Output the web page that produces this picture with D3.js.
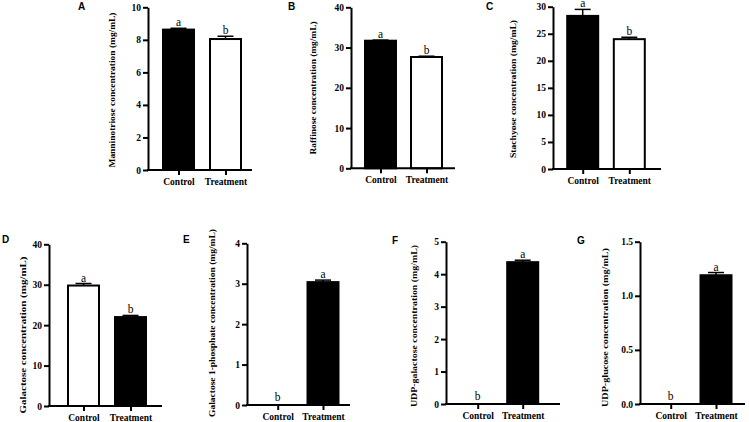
<!DOCTYPE html>
<html>
<head>
<meta charset="utf-8">
<script src="https://cdn.jsdelivr.net/npm/d3@7"></script>
<style>
  body { margin: 0; background: #fff; }
  svg { display: block; }
</style>
</head>
<body>
<div id="chart"></div>
<script>
// canvas size
const width = 749;
const height = 422;

// data
const categories = ["Control", "Treatment"];
const panelIds = ["A", "B", "C", "D", "E", "F", "G"];
const yTitles = [
  "Manninotriose concentration (mg/mL)",
  "Raffinose concentration (mg/mL)",
  "Stachyose concentration (mg/mL)",
  "Galactose concentration (mg/mL)",
  "Galactose 1-phosphate concentration (mg/mL)",
  "UDP-galactose concentration (mg/mL)",
  "UDP-glucose concentration (mg/mL)"
];
const controlMeans = [8.63, 31.7, 28.3, 29.8, 0, 0, 0];
const controlErrors = [0.08, 0.15, 1.2, 0.5, 0, 0, 0];
const treatmentMeans = [8.05, 27.65, 24.0, 22.0, 3.04, 4.37, 1.19];
const treatmentErrors = [0.17, 0.2, 0.35, 0.4, 0.05, 0.06, 0.025];
const controlLetters = ["a", "a", "a", "a", "b", "b", "b"];
const treatmentLetters = ["b", "b", "b", "b", "a", "a", "a"];
const yMax = [10, 40, 30, 40, 4, 5, 1.5];
const yTicks = [
  [0, 2, 4, 6, 8, 10],
  [0, 10, 20, 30, 40],
  [0, 5, 10, 15, 20, 25, 30],
  [0, 10, 20, 30, 40],
  [0, 1, 2, 3, 4],
  [0, 1, 2, 3, 4, 5],
  [0, 0.5, 1.0, 1.5]
];
const tickFormats = ["d", "d", "d", "d", "d", "d", ".1f"];
// which bar is filled black: Control / Treatment
const controlFill = ["#000", "#000", "#000", "#fff", "#fff", "#fff", "#fff"];
const treatmentFill = ["#fff", "#fff", "#fff", "#000", "#000", "#000", "#000"];

// panel layout (pixels)
const layout = [
  {x0: 148, x1: 252, yTop: 7.3, y0: 170, c0: 178.5, c1: 225.5, tx: 112, ty: 90, tl: 155, lx: 78, ly: 10},
  {x0: 351, x1: 455, yTop: 7.3, y0: 168.3, c0: 380.5, c1: 426.5, tx: 313, ty: 88, tl: 133, lx: 288, ly: 10},
  {x0: 553, x1: 661, yTop: 6.7, y0: 169, c0: 582.7, c1: 629.3, tx: 513, ty: 89, tl: 138, lx: 486, ly: 10},
  {x0: 49, x1: 162, yTop: 244.3, y0: 406, c0: 83.5, c1: 130.5, tx: 23, ty: 335, tl: 157, lx: 2, ly: 243},
  {x0: 247, x1: 350, yTop: 243.3, y0: 405, c0: 277.7, c1: 323, tx: 212, ty: 323, tl: 188, lx: 183, ly: 243},
  {x0: 446, x1: 560, yTop: 241.7, y0: 404, c0: 477.7, c1: 522.7, tx: 414, ty: 326, tl: 162, lx: 392, ly: 244},
  {x0: 640, x1: 745, yTop: 241.7, y0: 404, c0: 670.7, c1: 716, tx: 605, ty: 327.5, tl: 159, lx: 577, ly: 244}
];
const barWidth = 31;
const capWidth = 16;
const serif = "'Liberation Serif', 'Times New Roman', serif";
const sans = "'Liberation Sans', Arial, sans-serif";

const svg = d3.select("#chart")
  .append("svg")
  .attr("width", width)
  .attr("height", height)
  .attr("viewBox", [0, 0, width, height]);

panelIds.forEach((id, p) => {
  const L = layout[p];
  const g = svg.append("g");

  // scales
  const yScale = d3.scaleLinear()
    .domain([0, yMax[p]])
    .range([L.y0, L.yTop]);

  const xScale = d3.scalePoint()
    .domain(categories)
    .range([L.c0, L.c1]);

  const bars = categories.map((c, i) => ({
    cat: c,
    mean: i === 0 ? controlMeans[p] : treatmentMeans[p],
    err: i === 0 ? controlErrors[p] : treatmentErrors[p],
    letter: i === 0 ? controlLetters[p] : treatmentLetters[p],
    fill: i === 0 ? controlFill[p] : treatmentFill[p]
  }));

  // bars
  g.selectAll(".bar")
    .data(bars.filter(d => d.mean > 0))
    .enter()
    .append("rect")
      .attr("class", "bar")
      .attr("x", d => xScale(d.cat) - barWidth / 2)
      .attr("y", d => yScale(d.mean))
      .attr("width", barWidth)
      .attr("height", d => yScale(0) - yScale(d.mean))
      .attr("fill", d => d.fill)
      .attr("stroke", "#000")
      .attr("stroke-width", 2);

  // error bars (upper whisker + cap)
  const eb = g.selectAll(".err")
    .data(bars.filter(d => d.mean > 0))
    .enter()
    .append("g")
      .attr("class", "err");
  eb.append("line")
    .attr("x1", d => xScale(d.cat))
    .attr("x2", d => xScale(d.cat))
    .attr("y1", d => yScale(d.mean))
    .attr("y2", d => yScale(d.mean + d.err))
    .attr("stroke", "#000")
    .attr("stroke-width", 1.5);
  eb.append("line")
    .attr("x1", d => xScale(d.cat) - capWidth / 2)
    .attr("x2", d => xScale(d.cat) + capWidth / 2)
    .attr("y1", d => yScale(d.mean + d.err))
    .attr("y2", d => yScale(d.mean + d.err))
    .attr("stroke", "#000")
    .attr("stroke-width", 1.5);

  // significance letters
  g.selectAll(".sig")
    .data(bars)
    .enter()
    .append("text")
      .attr("class", "sig")
      .attr("x", d => xScale(d.cat))
      .attr("y", d => yScale(d.mean + d.err) - (d.mean > 0 ? 2 : 4.5))
      .attr("text-anchor", "middle")
      .style("font-family", serif)
      .style("font-size", "11.5px")
      .text(d => d.letter);

  // y axis
  const yAxis = g.append("g")
    .attr("transform", `translate(${L.x0},0)`)
    .call(d3.axisLeft(yScale)
      .tickValues(yTicks[p])
      .tickFormat(d3.format(tickFormats[p]))
      .tickSize(5)
      .tickSizeOuter(0)
      .tickPadding(2));
  yAxis.select(".domain").attr("stroke-width", 2);
  yAxis.selectAll(".tick line").attr("stroke-width", 2);
  yAxis.selectAll("text")
    .style("font-family", serif)
    .style("font-weight", "bold")
    .style("font-size", "9.5px")
    .attr("fill", "#000");

  // x axis
  g.append("line")
    .attr("x1", L.x0 - 1)
    .attr("x2", L.x1)
    .attr("y1", L.y0)
    .attr("y2", L.y0)
    .attr("stroke", "#000")
    .attr("stroke-width", 2);
  const xAxis = g.append("g")
    .attr("transform", `translate(0,${L.y0})`)
    .call(d3.axisBottom(xScale).tickSize(5).tickSizeOuter(0).tickPadding(3));
  xAxis.select(".domain").remove();
  xAxis.selectAll(".tick line").attr("stroke-width", 2);
  xAxis.selectAll("text")
    .style("font-family", serif)
    .style("font-weight", "bold")
    .style("font-size", "9.5px")
    .attr("fill", "#000");

  // y title
  g.append("text")
    .attr("transform", `translate(${L.tx},${L.ty}) rotate(-90)`)
    .attr("text-anchor", "middle")
    .attr("dominant-baseline", "central")
    .style("font-family", serif)
    .style("font-weight", "bold")
    .style("font-size", "9px")
    .attr("textLength", L.tl)
    .attr("lengthAdjust", "spacingAndGlyphs")
    .text(yTitles[p]);

  // panel letter
  g.append("text")
    .attr("x", L.lx)
    .attr("y", L.ly)
    .style("font-family", sans)
    .style("font-weight", "bold")
    .style("font-size", "10px")
    .text(id);
});
</script>
</body>
</html>
